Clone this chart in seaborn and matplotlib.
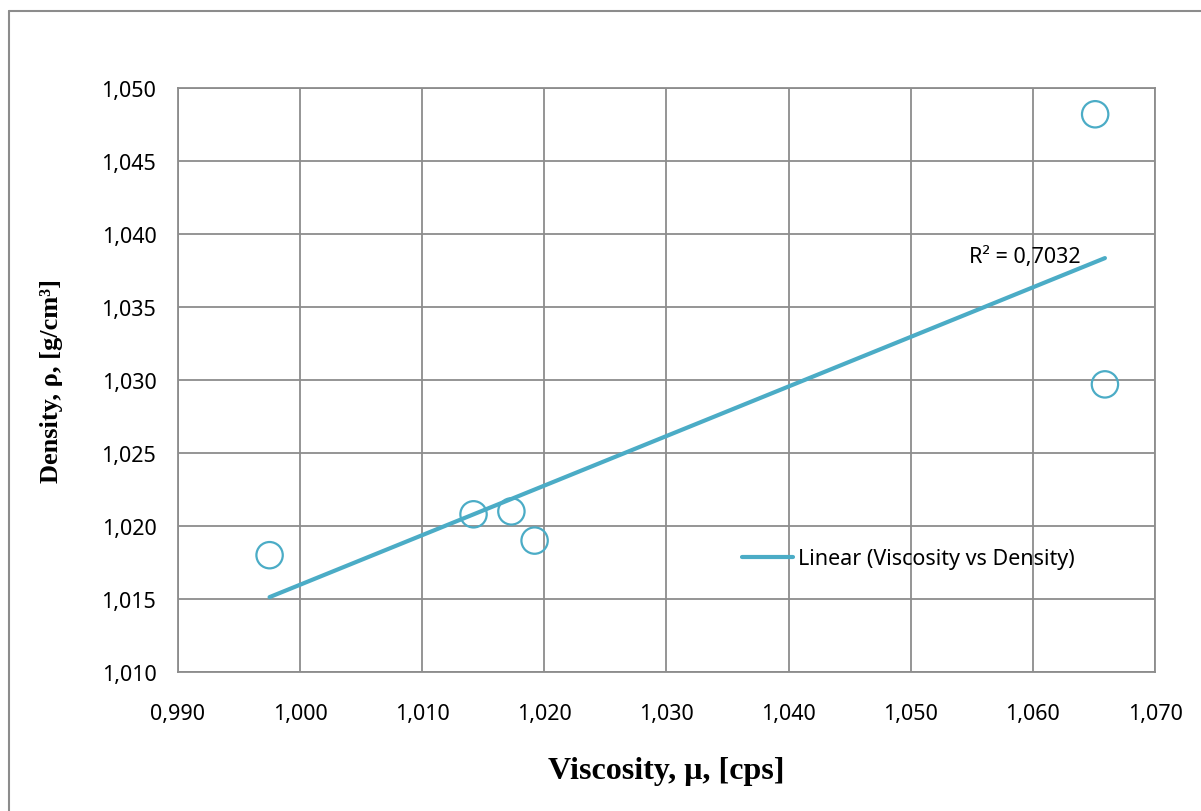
import numpy as np
import pandas as pd
import seaborn as sns
import matplotlib.pyplot as plt
from matplotlib.lines import Line2D
from matplotlib.ticker import FuncFormatter, MultipleLocator

# data
viscosity = [0.9975, 1.0142, 1.0173, 1.0192, 1.0651, 1.0659]
density = [1.0180, 1.0208, 1.0210, 1.0190, 1.0482, 1.0297]
r2_label = "R² = 0,7032"
trend_label = "Linear (Viscosity vs Density)"

df = pd.DataFrame({"viscosity": viscosity, "density": density})

sns.set_style("white")
plt.rcParams["font.family"] = ["Noto Sans", "DejaVu Sans"]
plt.rcParams["text.color"] = "black"
plt.rcParams["axes.labelcolor"] = "black"
plt.rcParams["xtick.color"] = "black"
plt.rcParams["ytick.color"] = "black"

blue = "#4bacc6"
gray = "#8c8c8c"

fig = plt.figure(figsize=(12.01, 8.12), dpi=100)
ax = fig.add_axes([0.1482, 0.1712, 0.8135, 0.7192])

sns.scatterplot(data=df, x="viscosity", y="density", ax=ax, s=360,
                facecolor="none", edgecolor=blue, linewidth=1.6, zorder=3)
sns.regplot(data=df, x="viscosity", y="density", ax=ax, scatter=False,
            ci=None, truncate=True, color=blue, label=trend_label,
            line_kws={"linewidth": 3, "solid_capstyle": "round"})

ax.set_xlim(0.990, 1.070)
ax.set_ylim(1.010, 1.050)
ax.xaxis.set_major_locator(MultipleLocator(0.010))
ax.yaxis.set_major_locator(MultipleLocator(0.005))
fmt = FuncFormatter(lambda v, p: f"{v:.3f}".replace(".", ","))
ax.xaxis.set_major_formatter(fmt)
ax.yaxis.set_major_formatter(fmt)

ax.grid(True, color=gray, linewidth=1.3)
ax.set_axisbelow(True)
for s in ax.spines.values():
    s.set_color(gray)
    s.set_linewidth(1.3)
ax.tick_params(axis="both", direction="out", length=3.6, width=1.3, color=gray,
               labelsize=15.5)
ax.tick_params(axis="y", pad=12)
ax.tick_params(axis="x", pad=18.5)

ax.set_xlabel("Viscosity, μ, [cps]", family="Liberation Serif", fontweight="bold",
              fontsize=23, labelpad=23)
ax.set_ylabel("Density, ρ, [g/cm³]", family="Liberation Serif", fontweight="bold",
              fontsize=19, labelpad=28)

ax.text(0.924, 0.711, r2_label, transform=ax.transAxes, fontsize=15.5,
        ha="right", va="center", zorder=4)

ax.legend(loc="center left", bbox_to_anchor=(0.557, 0.194), frameon=False,
          fontsize=15.5, handlelength=2.4, handletextpad=0.2)

# outer chart border (top and left only visible)
fig.add_artist(Line2D([0.0075, 1.0], [0.985, 0.985], color=gray, linewidth=1.5,
                      transform=fig.transFigure))
fig.add_artist(Line2D([0.0075, 0.0075], [0.0, 0.985], color=gray, linewidth=1.5,
                      transform=fig.transFigure))

fig.savefig("out.png", dpi=100)
